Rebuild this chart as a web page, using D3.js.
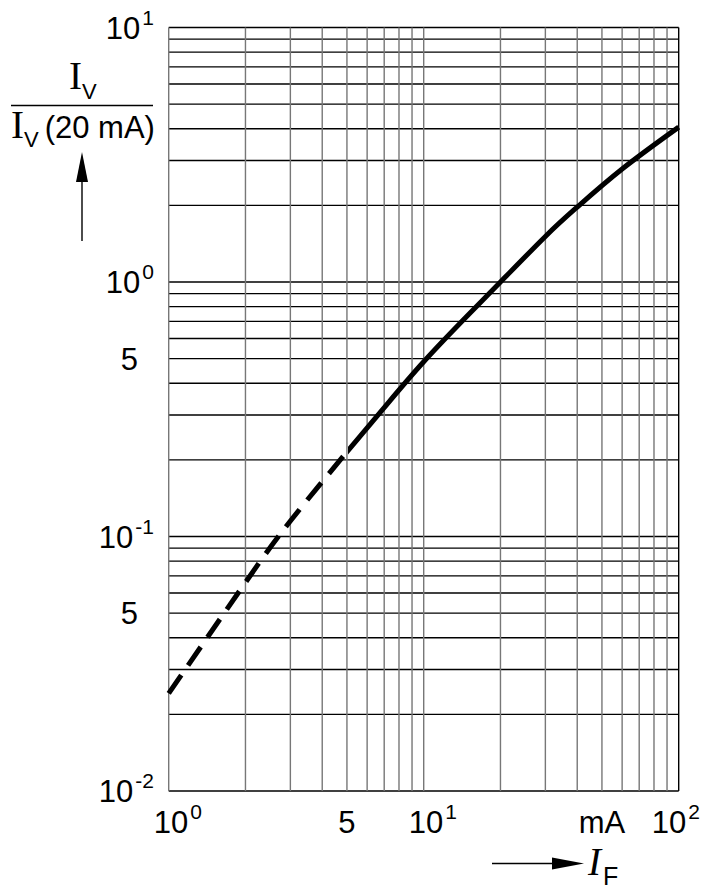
<!DOCTYPE html>
<html>
<head>
<meta charset="utf-8">
<script src="https://cdn.jsdelivr.net/npm/d3@7"></script>
<style>
  html, body { margin: 0; padding: 0; background: #fff; }
  svg { display: block; }
  text { font-family: "Liberation Sans", Arial, sans-serif; fill: #000; }
</style>
</head>
<body>
<script>
// ---- data ----
const forwardCurrent = [1, 2, 3, 5, 7, 10, 15, 20, 30, 40, 60, 100];          // I_F in mA
const relIntensity   = [0.0242, 0.066, 0.115, 0.215, 0.321, 0.486, 0.745, 1.0, 1.51, 1.97, 2.78, 4.06];
const dashedUntil = 5; // dashed (extrapolated) region below this current
const xTicks = [{v: 1, base: "10", exp: "0"}, {v: 5, base: "5", exp: ""}, {v: 10, base: "10", exp: "1"}, {v: 50, base: "mA", exp: ""}, {v: 100, base: "10", exp: "2"}];
const yTicks = [{v: 10, base: "10", exp: "1"}, {v: 1, base: "10", exp: "0"}, {v: 0.5, base: "5", exp: ""}, {v: 0.1, base: "10", exp: "-1"}, {v: 0.05, base: "5", exp: ""}, {v: 0.01, base: "10", exp: "-2"}];

// ---- layout ----
const W = 722, H = 891;
const L = 168.7, R = 678.7, T = 27.5, B = 791;

const svg = d3.select("body").append("svg").attr("width", W).attr("height", H);
const x = d3.scaleLog().domain([1, 100]).range([L, R]);
const y = d3.scaleLog().domain([0.01, 10]).range([B, T]);

// grid values 1..9 x 10^k
function gridVals(lo, hi) {
  const out = [];
  for (let e = Math.log10(lo); e < Math.log10(hi); e++)
    for (let m = 1; m <= 9; m++) out.push(m * Math.pow(10, e));
  out.push(hi);
  return out;
}
const g = svg.append("g");
g.selectAll("line.h").data(gridVals(0.01, 10)).join("line")
  .attr("x1", L).attr("x2", R)
  .attr("y1", d => y(d)).attr("y2", d => y(d))
  .attr("stroke", "#000").attr("stroke-width", 1.4);
g.selectAll("line.v").data(gridVals(1, 100)).join("line")
  .attr("y1", T).attr("y2", B)
  .attr("x1", d => x(d)).attr("x2", d => x(d))
  .attr("stroke", d => d === 100 ? "#000" : "#777").attr("stroke-width", 1.4);

// ---- curve ----
const defs = svg.append("defs");
defs.append("clipPath").attr("id", "clipDash").append("rect")
  .attr("x", 0).attr("y", 0).attr("width", x(dashedUntil)).attr("height", H);
defs.append("clipPath").attr("id", "clipSolid").append("rect")
  .attr("x", x(dashedUntil) + 1).attr("y", 0).attr("width", W).attr("height", H);

const pts = forwardCurrent.map((c, i) => [c, relIntensity[i]]);
const line = d3.line().x(d => x(d[0])).y(d => y(d[1])).curve(d3.curveNatural);
svg.append("path").datum(pts)
  .attr("d", line).attr("fill", "none").attr("stroke", "#000")
  .attr("stroke-width", 5).attr("stroke-dasharray", "22,12")
  .attr("clip-path", "url(#clipDash)");
svg.append("path").datum(pts)
  .attr("d", line).attr("fill", "none").attr("stroke", "#000")
  .attr("stroke-width", 5).attr("clip-path", "url(#clipSolid)");

// ---- tick labels ----
function label(sel, t) {
  sel.append("tspan").text(t.base);
  if (t.exp) sel.append("tspan").attr("dx", 2).attr("dy", -14).attr("font-size", 21).text(t.exp);
}
// y axis
yTicks.forEach(t => {
  const txt = svg.append("text").attr("font-size", 31).attr("text-anchor", "end")
    .attr("x", t.exp ? 154 : 138).attr("y", y(t.v) + 11);
  label(txt, t);
});
// x axis
xTicks.forEach(t => {
  const txt = svg.append("text").attr("font-size", 31).attr("y", 833);
  label(txt, t);
  const w = txt.node().getComputedTextLength();
  let left;
  if (t.exp) left = Math.min(x(t.v) - 15, 698 - w);
  else left = x(t.v) - w / 2;
  txt.attr("x", left);
});

// ---- y axis title ----
const yt = svg.append("g");
const r1 = yt.append("text").attr("x", 69).attr("y", 89);
r1.append("tspan").attr("font-family", "Liberation Serif, Times New Roman, serif").attr("font-size", 39).text("I");
r1.append("tspan").attr("font-size", 22).attr("dy", 10).attr("dx", 0).text("V");
yt.append("line").attr("x1", 11).attr("x2", 153).attr("y1", 105.5).attr("y2", 105.5)
  .attr("stroke", "#000").attr("stroke-width", 1.6);
const r2 = yt.append("text").attr("x", 11).attr("y", 138);
r2.append("tspan").attr("font-family", "Liberation Serif, Times New Roman, serif").attr("font-size", 39).text("I");
r2.append("tspan").attr("font-size", 22).attr("dy", 9).text("V");
r2.append("tspan").attr("font-size", 31).attr("dy", -9).attr("dx", 6).text("(20 mA)");
// up arrow
yt.append("line").attr("x1", 82).attr("x2", 82).attr("y1", 241).attr("y2", 175)
  .attr("stroke", "#000").attr("stroke-width", 1.4);
yt.append("path").attr("d", "M82,152 L76,182 L88,182 Z").attr("fill", "#000");

// ---- x axis title ----
const xt = svg.append("g");
xt.append("line").attr("x1", 492).attr("x2", 560).attr("y1", 863.5).attr("y2", 863.5)
  .attr("stroke", "#000").attr("stroke-width", 1.4);
xt.append("path").attr("d", "M584,863.5 L552,857.5 L552,869.5 Z").attr("fill", "#000");
const xl = xt.append("text").attr("x", 588).attr("y", 875);
xl.append("tspan").attr("font-family", "Liberation Serif, Times New Roman, serif")
  .attr("font-style", "italic").attr("font-size", 39).text("I");
xl.append("tspan").attr("font-size", 25).attr("dy", 10).attr("dx", 2).text("F");
</script>
</body>
</html>
